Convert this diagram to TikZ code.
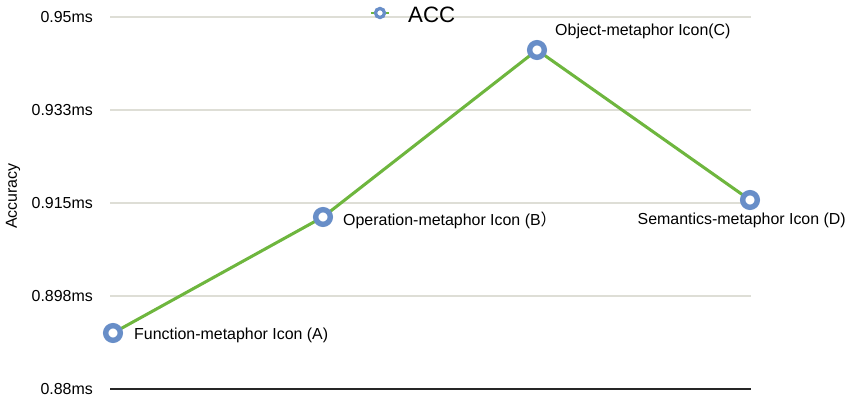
\documentclass[tikz,border=0pt]{standalone}
\usepackage{fontspec}
\setmainfont{Liberation Sans}
\newfontfamily\cjk{Noto Sans CJK SC}
\usetikzlibrary{positioning}

\definecolor{accblue}{RGB}{104,142,200}
\definecolor{accgreen}{RGB}{110,182,62}
\definecolor{gridgray}{RGB}{222,222,214}

\begin{document}
\begin{tikzpicture}[x=0.03cm, y=-0.03cm]

  \tikzstyle{marker} = [circle, draw=accblue, fill=white, line width=4.6pt, inner sep=0pt, minimum size=0.44cm]
  \tikzstyle{smallmarker} = [circle, draw=accblue, fill=white, line width=2.8pt, inner sep=0pt, minimum size=0.27cm]
  \tikzstyle{ticklabel} = [anchor=east, font=\fontsize{13.6}{15}\selectfont, inner sep=0pt]
  \tikzstyle{ptlabel} = [font=\fontsize{13.6}{15}\selectfont, inner sep=0pt]
  \tikzstyle{gridline} = [draw=gridgray, line width=0.9pt]
  \tikzstyle{series} = [draw=accgreen, line width=2.6pt]

  \useasboundingbox (0,0) rectangle (850,402);

  % grid and axis
  \foreach \y/\v in {17/0.95ms, 110/0.933ms, 203/0.915ms, 296/0.898ms} {
    \draw [gridline] (110,\y) -- (751,\y);
    \node [ticklabel] at (93,\y) {\v};
  }
  \draw [black!85, line width=1.6pt] (110,389) -- (751,389);
  \node [ticklabel] at (93,389) {0.88ms};
  \node [ptlabel, rotate=90] (ylabel) at (13,196) {Accuracy};

  % legend
  \coordinate (legleft) at (371,13);
  \coordinate (legright) at (389,13);
  \draw [series, line width=2pt] (legleft) -- (legright);
  \node [smallmarker] (legmark) at (380,13) {};
  \node [anchor=west, font=\fontsize{19}{21}\selectfont, inner sep=0pt] (legtext) at (408,15) {ACC};

  % data
  \coordinate (A) at (113,333);
  \coordinate (B) at (323,217);
  \coordinate (C) at (537,50);
  \coordinate (D) at (750,200);
  \draw [series] (A) -- (B) -- (C) -- (D);
  \foreach \p in {A,B,C,D}
    \node [marker] (m\p) at (\p) {};

  \node [ptlabel, anchor=west] (labA) at (134,335) {Function-metaphor Icon (A)};
  \node [ptlabel, anchor=west] (labB) at (343,220) {Operation-metaphor Icon (B{\cjk ）}};
  \node [ptlabel, anchor=west] (labC) at (555,31) {Object-metaphor Icon(C)};
  \node [ptlabel, anchor=east] (labD) at (846,220) {Semantics-metaphor Icon (D)};

\end{tikzpicture}
\end{document}
